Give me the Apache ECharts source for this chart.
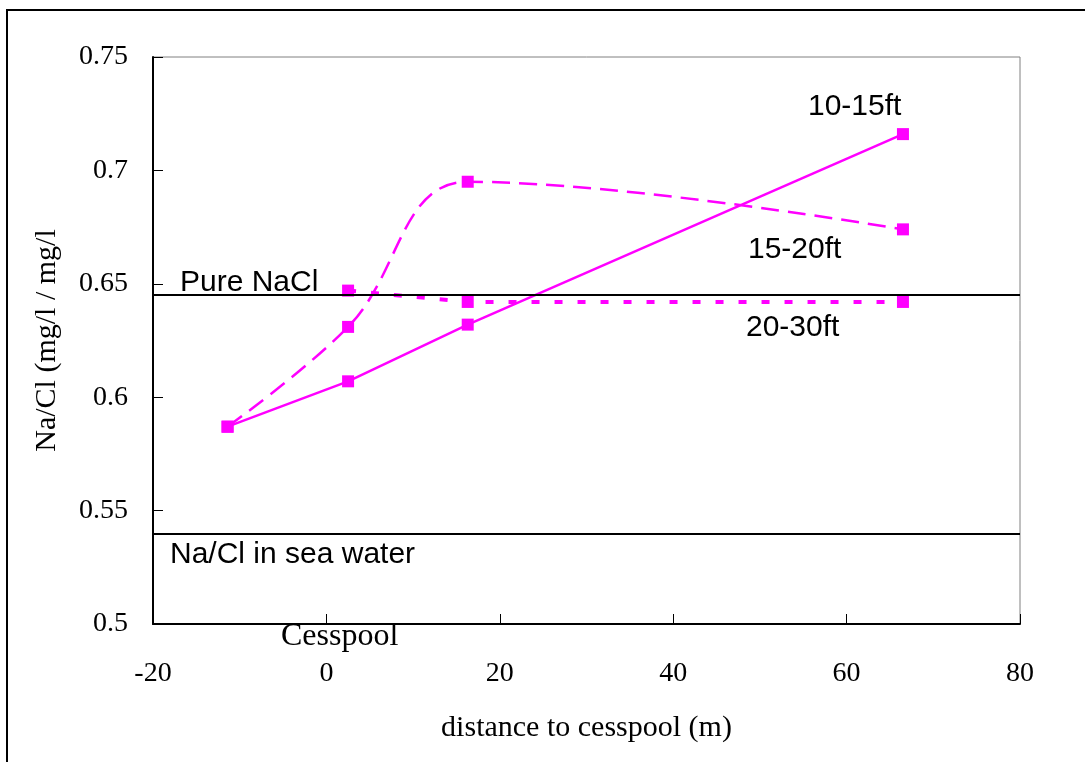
<!DOCTYPE html>
<html>
<head>
<meta charset="utf-8">
<script src="https://cdn.jsdelivr.net/npm/echarts@6/dist/echarts.min.js"></script>
<style>
html, body { margin: 0; padding: 0; background: #fff; }
#main { width: 1085px; height: 762px; }
</style>
</head>
<body>
<div id="main"></div>
<script>
// distance to cesspool (m) and Na/Cl ratio for each depth
var x1015 = [-11.4, 2.5, 16.3, 66.5];
var y1015 = [0.587, 0.607, 0.632, 0.716];
var x1520 = [-11.4, 2.5, 16.3, 66.5];
var y1520 = [0.587, 0.631, 0.695, 0.674];
var x2030 = [2.5, 16.3, 66.5];
var y2030 = [0.647, 0.642, 0.642];
// reference lines
var pureNaCl = 0.645;
var seaWater = 0.540;

function pairs(xs, ys) {
	var out = [];
	for (var i = 0; i < xs.length; i++) {
		out.push([xs[i], ys[i]]);
	}
	return out;
}

var serif = '"Liberation Serif", "Times New Roman", serif';
var sans = '"Liberation Sans", Arial, sans-serif';
var pink = '#ff00ff';

var myChart = echarts.init(document.getElementById('main'));
var option = {
	animation : false,
	backgroundColor : '#fff',
	grid : {
		left : 153,
		right : 65,
		top : 57,
		bottom : 138,
		show : true,
		borderColor : '#808080',
		borderWidth : 1
	},
	xAxis : {
		type : 'value',
		min : -20,
		max : 80,
		interval : 20,
		name : 'distance to cesspool (m)',
		nameLocation : 'middle',
		nameGap : 89,
		nameTextStyle : { fontFamily : serif, fontSize : 30, color : '#000' },
		axisLine : { onZero : false, lineStyle : { color : '#000', width : 2 } },
		axisTick : { inside : true, length : 10, lineStyle : { color : '#000' } },
		axisLabel : { fontFamily : serif, fontSize : 28, color : '#000', margin : 36 },
		splitLine : { show : false }
	},
	yAxis : {
		type : 'value',
		min : 0.5,
		max : 0.75,
		interval : 0.05,
		name : 'Na/Cl (mg/l / mg/l',
		nameLocation : 'middle',
		nameGap : 91,
		nameTextStyle : { fontFamily : serif, fontSize : 30, color : '#000' },
		axisLine : { show : true, onZero : false, lineStyle : { color : '#000', width : 2 } },
		axisTick : { show : true, inside : true, length : 10, lineStyle : { color : '#000' } },
		axisLabel : { fontFamily : serif, fontSize : 28, color : '#000', margin : 25 },
		splitLine : { show : false }
	},
	graphic : [
		{ type : 'rect', shape : { x : 7, y : 10, width : 1200, height : 900 },
		  style : { fill : 'none', stroke : '#000', lineWidth : 2 }, z : 100 },
		{ type : 'text', left : 180, top : 268, style : { text : 'Pure NaCl', font : '30px ' + sans, fill : '#000' } },
		{ type : 'text', left : 170, top : 540, style : { text : 'Na/Cl in sea water', font : '30px ' + sans, fill : '#000' } },
		{ type : 'text', left : 808, top : 92, style : { text : '10-15ft', font : '30px ' + sans, fill : '#000' } },
		{ type : 'text', left : 748, top : 235, style : { text : '15-20ft', font : '30px ' + sans, fill : '#000' } },
		{ type : 'text', left : 746, top : 313, style : { text : '20-30ft', font : '30px ' + sans, fill : '#000' } },
		{ type : 'text', left : 281, top : 621, style : { text : 'Cesspool', font : '32px ' + serif, fill : '#000' } }
	],
	series : [
		{
			name : '10-15ft',
			type : 'line',
			data : pairs(x1015, y1015),
			symbol : 'rect',
			symbolSize : 12,
			itemStyle : { color : pink },
			lineStyle : { color : pink, width : 2.5 },
			markLine : {
				silent : true,
				symbol : 'none',
				precision : 3,
				label : { show : false },
				lineStyle : { color : '#000', width : 2, type : 'solid' },
				data : [ { yAxis : pureNaCl }, { yAxis : seaWater } ]
			}
		},
		{
			name : '15-20ft',
			type : 'line',
			data : pairs(x1520, y1520),
			smooth : 0.4,
			symbol : 'rect',
			symbolSize : 12,
			itemStyle : { color : pink },
			lineStyle : { color : pink, width : 2.5, type : [18, 9] }
		},
		{
			name : '20-30ft',
			type : 'line',
			data : pairs(x2030, y2030),
			symbol : 'rect',
			symbolSize : 12,
			itemStyle : { color : pink },
			lineStyle : { color : pink, width : 4, type : [8, 15] }
		}
	]
};
myChart.setOption(option);
</script>
</body>
</html>
